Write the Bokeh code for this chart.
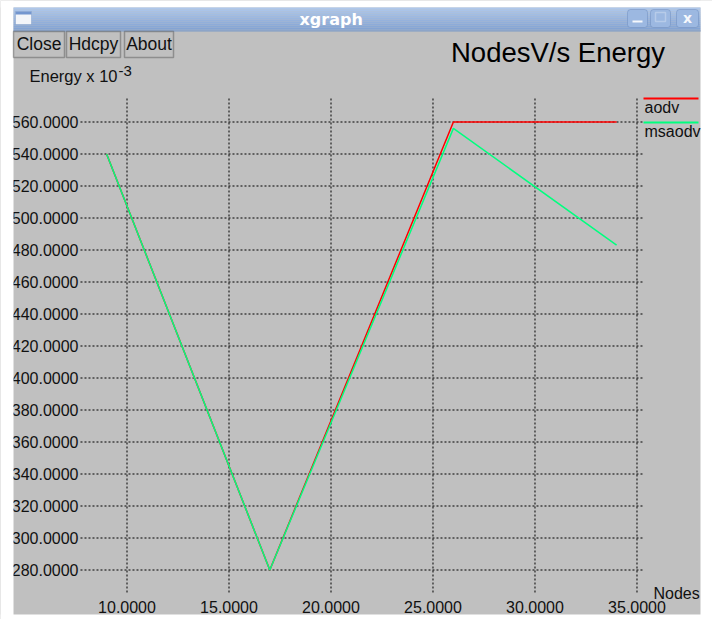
from bokeh.plotting import figure
from bokeh.models import Range1d, Label, BoxAnnotation
from bokeh.core.properties import value
from bokeh.embed import file_html
from bokeh.resources import INLINE

# ---- data ----
nodes = [9, 17, 26, 34]
aodv = [540, 280, 560, 560]
msaodv = [540, 280, 556, 483]
series_names = ["aodv", "msaodv"]
series_colors = ["#ff0000", "#00ff7f"]
x_ticks = [10, 15, 20, 25, 30, 35]
y_ticks = [280, 300, 320, 340, 360, 380, 400, 420, 440, 460, 480, 500, 520, 540, 560]
x_tick_labels = ["%.4f" % t for t in x_ticks]
y_tick_labels = ["%.4f" % t for t in y_ticks]
button_labels = ["Close", "Hdcpy", "About"]

GRAY = "#c0c0c0"
FONT = "Liberation Sans"
TXT = "#111111"

# plotting region (grid extent) in data units
X0, X1 = 7.72, 35.32
Y0, Y1 = 265.94, 575.3

W, H = 712, 619
p = figure(width=W, height=H, output_backend="svg", toolbar_location=None,
           x_range=Range1d(3.799, 38.701), y_range=Range1d(249.0625, 635.9375),
           x_axis_location=None, y_axis_location=None,
           min_border=0, min_border_left=0, min_border_right=0,
           min_border_top=0, min_border_bottom=0)
p.background_fill_color = GRAY
p.border_fill_color = "#ffffff"
p.outline_line_color = None
p.grid.visible = False


def cbox(l, r, t, b, **kw):
    box = BoxAnnotation(left=l, right=r, top=t, bottom=b,
                        left_units="canvas", right_units="canvas",
                        top_units="canvas", bottom_units="canvas", **kw)
    p.add_layout(box)
    return box


def clabel(x, y, text, size=16, font=FONT, color=TXT, **kw):
    # y is the wanted baseline; Bokeh draws the text about a third of an em lower
    lab = Label(x=x, y=y - 0.32 * size, x_units="canvas", y_units="canvas", text=text,
                text_font=font, text_font_size="%gpx" % size, text_color=color,
                text_baseline="alphabetic", **kw)
    p.add_layout(lab)
    return lab


WHITE = dict(fill_color="#ffffff", fill_alpha=1, line_color=None)
# white surroundings of the window
cbox(0, 13, 0, H, **WHITE)
cbox(700, W, 0, H, **WHITE)
cbox(0, W, 0, 7, **WHITE)
cbox(0, W, 614, H, **WHITE)

# title bar (gradient built from thin bands)
top_c = (0xae, 0xc7, 0xeb)
bot_c = (0x80, 0xa1, 0xd2)
nb = 12
for i in range(nb):
    f = i / (nb - 1)
    c = tuple(int(round(a + (b - a) * f)) for a, b in zip(top_c, bot_c))
    cbox(13, 700, 7 + i * 2, 9 + i * 2, fill_color="#%02x%02x%02x" % c, fill_alpha=1, line_color=None)
cbox(13, 700, 30, 31, fill_color="#9aa9bd", fill_alpha=1, line_color=None)
# window icon
cbox(15, 31, 11, 24, fill_color="#f3f5f9", fill_alpha=1, line_color="#5b7db3", line_width=1)
cbox(15, 31, 11, 14, fill_color="#7396cf", fill_alpha=1, line_color=None)
clabel(299, 24, "xgraph", size=16, font="DejaVu Sans", color="#ffffff", text_font_style="bold")
# window buttons
for l, r in ((627, 647), (650, 670), (676, 698)):
    cbox(l, r, 9, 27, fill_color="#9cb8e1", fill_alpha=1, line_color="#4f72a8",
         line_width=1, border_radius=3)
cbox(632, 642, 20, 22, fill_color="#f6f8fc", fill_alpha=1, line_color=None)
cbox(655, 665, 12, 21, fill_color=None, fill_alpha=0, line_color="#f6f8fc", line_width=1.5)
clabel(687, 22, "x", size=14, font="DejaVu Sans", color="#f6f8fc",
       text_font_style="bold", text_align="center")

# xgraph buttons
btn_left = [13, 66, 124]
btn_right = [64, 120, 173]
for lab, l, r in zip(button_labels, btn_left, btn_right):
    cbox(l, r, 31, 57, fill_color=GRAY, fill_alpha=1, line_color="#1a1a1a", line_width=1.5)
    clabel((l + r) / 2, 49, lab, size=17.5, text_align="center")

# titles
clabel(450.5, 61, "NodesV/s Energy", size=27.5, color="#000000")
clabel(29, 81, "Energy x 10", size=16.5)
clabel(118, 75, "-3", size=15)
clabel(653, 598, "Nodes", size=16)

# grid (dotted)
p.segment(x0=x_ticks, x1=x_ticks, y0=[Y0] * len(x_ticks), y1=[Y1] * len(x_ticks),
          line_color="#000000", line_width=1, line_dash="2 2")
p.segment(x0=[X0] * len(y_ticks), x1=[X1] * len(y_ticks), y0=y_ticks, y1=y_ticks,
          line_color="#000000", line_width=1, line_dash="2 2")

# tick labels
p.text(x=x_ticks, y=[Y0] * len(x_ticks), text=x_tick_labels, text_align="center",
       text_baseline="top", y_offset=9, text_font=value(FONT),
       text_font_size=value("16px"), text_color=TXT)
p.text(x=[X0] * len(y_ticks), y=y_ticks, text=y_tick_labels, text_align="right",
       text_baseline="middle", x_offset=-2, text_font=value(FONT),
       text_font_size=value("16px"), text_color=TXT)

# data
p.line(nodes, aodv, line_color=series_colors[0], line_width=1.5)
p.line(nodes, msaodv, line_color=series_colors[1], line_width=1.5)

# legend (xgraph style: coloured line above the name)
for name, col, yy in zip(series_names, series_colors, [97, 121]):
    cbox(643, 698, yy, yy + 2, fill_color=col, fill_alpha=1, line_color=None)
    clabel(644, yy + 15, name, size=16)

open("out.html", "w").write(file_html(p, INLINE))
